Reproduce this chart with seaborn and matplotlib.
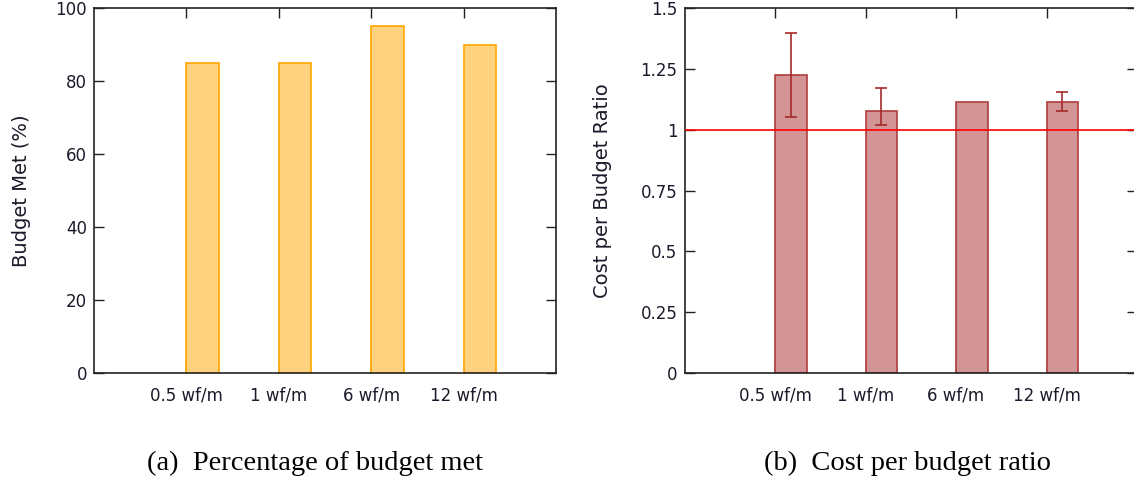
import numpy as np
import pandas as pd
import matplotlib
matplotlib.use("Agg")
import matplotlib.pyplot as plt
import seaborn as sns

# ---- data ----
categories = ["0.5 wf/m", "1 wf/m", "6 wf/m", "12 wf/m"]
budget_met = [85, 85, 95, 90]                 # percent
cost_ratio = [1.226, 1.078, 1.114, 1.114]     # cost per budget ratio
ratio_low = [1.053, 1.018, np.nan, 1.078]     # error bar lower ends
ratio_high = [1.399, 1.173, np.nan, 1.156]    # error bar upper ends
left_yticks = [0, 20, 40, 60, 80, 100]
right_yticks = [0, 0.25, 0.5, 0.75, 1, 1.25, 1.5]
right_ytick_labels = ["0", "0.25", "0.5", "0.75", "1", "1.25", "1.5"]
reference_ratio = 1.0
captions = ["(a)  Percentage of budget met", "(b)  Cost per budget ratio"]

sns.set_theme(style="ticks")
plt.rcParams["font.family"] = ["DejaVu Sans"]

W, H = 1134, 483
fig = plt.figure(figsize=(W / 100, H / 100), dpi=100)

def px_axes(x0, y0, x1, y1):
    return fig.add_axes([x0 / W, 1 - y1 / H, (x1 - x0) / W, (y1 - y0) / H])

ax1 = px_axes(94, 8, 556, 373)
ax2 = px_axes(684.5, 8, 1137, 373)

n = len(categories)
idx = np.arange(n)
bar_w = 0.35
pos = idx + bar_w / 2

df1 = pd.DataFrame({"pos": pos, "val": budget_met})
df2 = pd.DataFrame({"pos": pos, "val": cost_ratio})

sns.barplot(data=df1, x="pos", y="val", native_scale=True, width=bar_w,
            color="#FFD280", saturation=1, edgecolor="#FFA500", linewidth=1.2,
            errorbar=None, ax=ax1)
sns.barplot(data=df2, x="pos", y="val", native_scale=True, width=bar_w,
            color="#D29494", saturation=1, edgecolor="#B03C3C", linewidth=1.2,
            errorbar=None, ax=ax2)

ax2.axhline(reference_ratio, color="#FF0000", lw=1.4, alpha=0.85, zorder=5)

lo = np.array(ratio_low)
hi = np.array(ratio_high)
cr = np.array(cost_ratio)
m = ~np.isnan(lo)
ax2.errorbar(pos[m], cr[m], yerr=[cr[m] - lo[m], hi[m] - cr[m]], fmt="none",
             ecolor="#A52A2A", elinewidth=1.2, capsize=4, capthick=1.2, zorder=6)

text_color = "#1a1a2a"
for ax, yt, ylab, ylim in [
    (ax1, left_yticks, None, (0, 100)),
    (ax2, right_yticks, right_ytick_labels, (0, 1.5)),
]:
    ax.set_xlim(-1, n)
    ax.set_ylim(*ylim)
    ax.set_xticks(idx)
    ax.set_xticklabels(categories)
    ax.set_yticks(yt)
    if ylab is not None:
        ax.set_yticklabels(ylab)
    ax.set_xlabel("")
    ax.tick_params(direction="in", top=True, right=True, length=7.5, width=1,
                   color="#222222", labelsize=12, labelcolor=text_color)
    ax.tick_params(axis="x", pad=10)
    ax.tick_params(axis="y", pad=5)
    for s in ax.spines.values():
        s.set_visible(True)
        s.set_color("#222222")
        s.set_linewidth(1.2)
    ax.grid(False)

ax1.set_ylabel("Budget Met (%)", fontsize=14, color=text_color)
ax2.set_ylabel("Cost per Budget Ratio", fontsize=14, color=text_color)
ax1.yaxis.label.set_va("center")
ax2.yaxis.label.set_va("center")
ax1.yaxis.set_label_coords((22 - 94) / 462, 0.5)
ax2.yaxis.set_label_coords((603 - 684.5) / 452.5, 0.5)

fig.text(315 / W, 1 - 463 / H, captions[0], ha="center", va="center",
         fontsize=20.5, family="Liberation Serif", color="black")
fig.text(907 / W, 1 - 463 / H, captions[1], ha="center", va="center",
         fontsize=20.5, family="Liberation Serif", color="black")

fig.savefig("out.png", dpi=100, facecolor="white")
